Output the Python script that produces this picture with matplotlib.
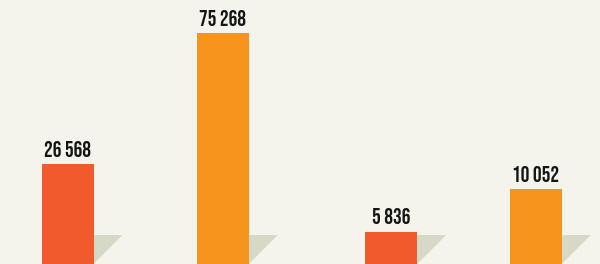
import matplotlib
matplotlib.use("Agg")
import matplotlib.pyplot as plt
from matplotlib.patches import Polygon
from matplotlib import font_manager

# ---- data ----
categories = ["A", "B", "C", "D"]
values = [26568, 75268, 5836, 10052]          # labels shown above bars
bar_heights = [100, 231, 32.3, 75]             # drawn heights
colors = ["#f15a2c", "#f7941e", "#f15a2c", "#f7941e"]

# ---- layout ----
x_centers = [67.5, 222.8, 391.2, 535.8]
bar_w = 52
shadow_h = 29

names = {f.name for f in font_manager.fontManager.ttflist}
label_font = dict(family="DejaVu Sans", fontweight="bold", fontsize=11)
for fam, size, w in [("Bebas Neue", 15.6, "normal"), ("Oswald", 11.5, "semibold"),
                     ("Fjalla One", 11.5, "normal"), ("Antonio", 12.0, "bold")]:
    if fam in names:
        label_font = dict(family=fam, fontweight=w, fontsize=size)
        break

fig = plt.figure(figsize=(6, 2.64), dpi=100)
bg = "#f4f4ec"
fig.patch.set_facecolor(bg)
ax = fig.add_axes([0, 0, 1, 1])
ax.set_facecolor(bg)
ax.set_xlim(0, 600)
ax.set_ylim(0, 264)
ax.axis("off")

bars = ax.bar(x_centers, bar_heights, width=bar_w, color=colors,
              edgecolor="none", zorder=3)
for b, v in zip(bars, values):
    right = b.get_x() + b.get_width()
    ax.add_patch(Polygon([(right, shadow_h), (right + shadow_h, shadow_h), (right, 0)],
                         closed=True, facecolor="#d6d9c6", edgecolor="none", zorder=2))
    top = b.get_y() + b.get_height()
    label = f"{v:,}".replace(",", " ")
    ax.text(b.get_x() + b.get_width() / 2, top + 7.3, label, ha="center", va="baseline",
            color="#151515", zorder=4, **label_font)

fig.savefig("out.png", dpi=100, facecolor=bg)
